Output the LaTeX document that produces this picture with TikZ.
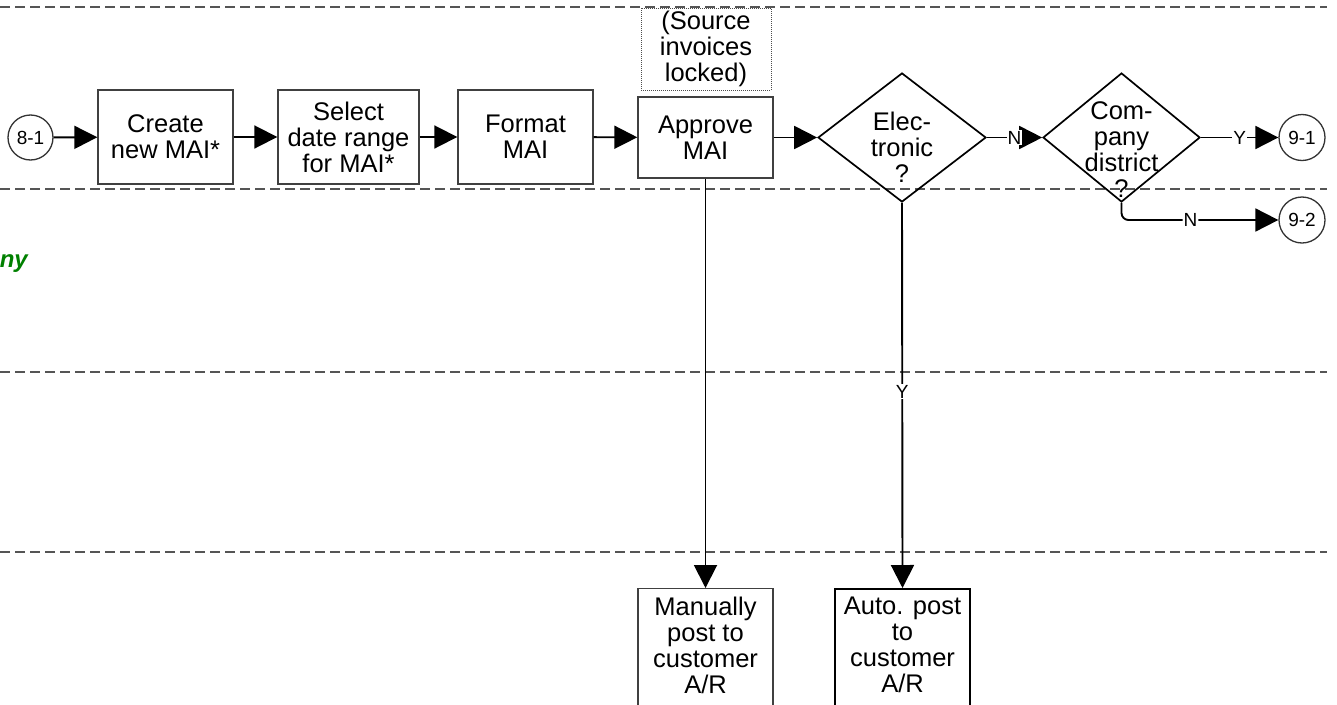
\documentclass[tikz,border=0pt]{standalone}
\usepackage{fontspec}
\setmainfont{Liberation Sans}
\usetikzlibrary{arrows.meta,shapes.geometric}
\definecolor{lanegray}{RGB}{85,85,85}
\definecolor{labelgreen}{RGB}{0,128,0}
\begin{document}
\begin{tikzpicture}[x=1pt,y=-1pt,
  every node/.style={font=\fontsize{25.5}{26}\selectfont},
  lane/.style={draw=lanegray,line width=1.3pt,dash pattern=on 10pt off 5pt},
  procbox/.style={draw=black!75,line width=1.4pt,inner sep=0pt,align=center},
  notebox/.style={draw=black!70,line width=1pt,densely dotted,inner sep=0pt},
  decision/.style={diamond,draw=black,line width=1.7pt,inner sep=0pt},
  txt/.style={align=center,inner sep=0pt},
  conn/.style={draw=black!80,line width=1.3pt,inner sep=0pt,
     font=\fontsize{19}{19}\selectfont},
  flow/.style={line width=1.9pt,-{Triangle[length=23pt,width=23pt]}},
  lbl/.style={fill=white,inner sep=1pt,font=\fontsize{19}{19}\selectfont}]
\useasboundingbox (0,0) rectangle (1337,704);

% swimlane separators
\coordinate (l1a) at (0,7);   \coordinate (l1b) at (1327,7);
\coordinate (l2a) at (0,189); \coordinate (l2b) at (1327,189);
\coordinate (l3a) at (0,372); \coordinate (l3b) at (1327,372);
\coordinate (l4a) at (0,552); \coordinate (l4b) at (1327,552);
\draw[lane] (l1a) -- (l1b);
\draw[lane] (l2a) -- (l2b);
\draw[lane] (l3a) -- (l3b);
\draw[lane] (l4a) -- (l4b);

% truncated lane label
\node[anchor=base east,inner sep=0pt,text=labelgreen,
  font=\fontsize{24}{24}\bfseries\itshape\selectfont] (lanelbl) at (28,267) {ny};

% connectors (off-page)
\node[circle,conn,minimum size=45pt] (c81) at (30.5,137.5) {8-1};
\node[circle,conn,minimum size=46pt] (c91) at (1302,137.5) {9-1};
\node[circle,conn,minimum size=46pt] (c92) at (1302,220) {9-2};

% process boxes
\node[procbox,minimum width=135pt,minimum height=94pt] (create) at (165.5,137) {Create\\new MAI*};
\node[procbox,minimum width=141pt,minimum height=94pt] (select) at (348.5,137) {Select\\date range\\for MAI*};
\node[procbox,minimum width=135pt,minimum height=94pt] (format) at (525.5,137) {Format\\MAI};
\node[procbox,minimum width=135pt,minimum height=81pt] (approve) at (705.5,137.5) {Approve\\MAI};
\node[notebox,minimum width=130pt,minimum height=82pt,align=center] (note) at (706,49) {(Source\\invoices\\locked)};

% decisions
\node[decision,minimum width=168pt,minimum height=129pt] (elec) at (902,137.5) {};
\node[txt,anchor=north] (elect) at (902,112) {Elec-\\tronic\\?};
\node[decision,minimum width=157pt,minimum height=129pt] (comp) at (1121.5,137.5) {};
\node[txt,anchor=north] (compt) at (1121.5,101) {Com-\\pany\\district\\?};

% lower boxes
\node[procbox,minimum width=135pt,minimum height=140pt,anchor=north] (manual) at (705.5,588) {};
\node[txt,anchor=north] (manualt) at (705.5,597) {Manually\\post to\\customer\\A/R};
\node[procbox,draw=black,line width=2.2pt,minimum width=135pt,minimum height=140pt,anchor=north] (auto) at (902.5,588) {};
\node[txt,anchor=north] (autot) at (902.5,597) {Auto. post\\to\\customer\\A/R};

% flows
\draw[flow] (c81) -- (create);
\draw[flow] (create) -- (select);
\draw[flow] (select) -- (format);
\draw[flow] (format) -- (approve);
\draw[flow] (approve.east) -- (elec.west);
\draw[flow] (elec.east) -- node[lbl] {N} (comp.west);
\draw[flow] (comp.east) -- node[lbl] {Y} (c91.west);
\draw[flow,rounded corners=7pt] (comp.south) |- node[lbl,pos=0.72] {N} (c92.west);
\draw[flow] (approve.south) -- (manual.north);
\draw[flow] (elec.south) -- node[lbl,pos=0.49] {Y} (auto.north);
\end{tikzpicture}
\end{document}
